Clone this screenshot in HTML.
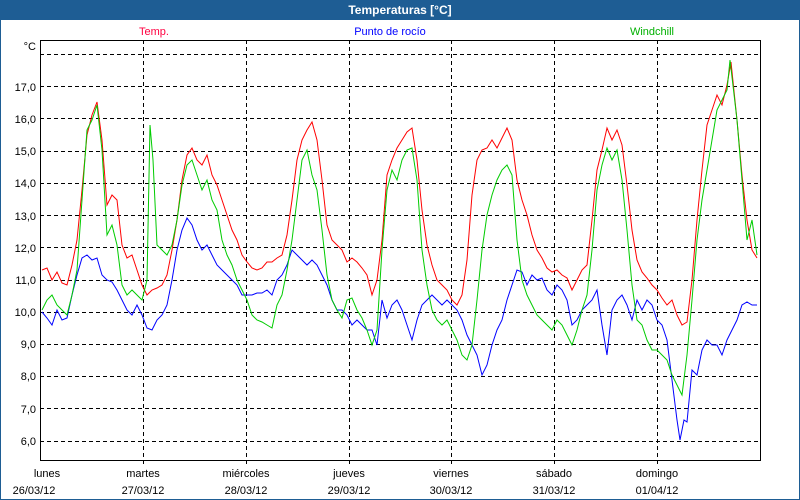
<!DOCTYPE html>
<html><head><meta charset="utf-8"><style>
body{margin:0;background:#fff}
svg{display:block;font-family:"Liberation Sans",sans-serif;font-size:11px}
</style></head><body>
<svg width="800" height="500" viewBox="0 0 800 500">
<rect x="0" y="0" width="800" height="500" fill="#fff"/>
<rect x="0.5" y="0.5" width="799" height="499" fill="none" stroke="#1e5d94"/>
<rect x="0" y="0" width="800" height="20" fill="#1e5d94"/>
<text x="400" y="14" text-anchor="middle" fill="#fff" font-weight="bold" font-size="12">Temperaturas [°C]</text>
<text x="154" y="35" text-anchor="middle" fill="#ff0040">Temp.</text>
<text x="390" y="35" text-anchor="middle" fill="#0000ff">Punto de rocío</text>
<text x="652" y="35" text-anchor="middle" fill="#00b000">Windchill</text>
<g stroke="#000" stroke-dasharray="4,3" stroke-width="1">
<line x1="40" y1="54.5" x2="760" y2="54.5"/>
<line x1="40" y1="86.5" x2="760" y2="86.5"/>
<line x1="40" y1="118.5" x2="760" y2="118.5"/>
<line x1="40" y1="151.5" x2="760" y2="151.5"/>
<line x1="40" y1="183.5" x2="760" y2="183.5"/>
<line x1="40" y1="215.5" x2="760" y2="215.5"/>
<line x1="40" y1="247.5" x2="760" y2="247.5"/>
<line x1="40" y1="280.5" x2="760" y2="280.5"/>
<line x1="40" y1="312.5" x2="760" y2="312.5"/>
<line x1="40" y1="344.5" x2="760" y2="344.5"/>
<line x1="40" y1="376.5" x2="760" y2="376.5"/>
<line x1="40" y1="408.5" x2="760" y2="408.5"/>
<line x1="40" y1="441.5" x2="760" y2="441.5"/>
<line x1="143.5" y1="40" x2="143.5" y2="466"/>
<line x1="246.5" y1="40" x2="246.5" y2="466"/>
<line x1="349.5" y1="40" x2="349.5" y2="466"/>
<line x1="451.5" y1="40" x2="451.5" y2="466"/>
<line x1="554.5" y1="40" x2="554.5" y2="466"/>
<line x1="657.5" y1="40" x2="657.5" y2="466"/>
</g>
<rect x="40.5" y="40.5" width="720" height="420" fill="none" stroke="#000"/>
<g text-anchor="end" fill="#000">
<text x="36" y="50">°C</text>
<text x="36" y="91">17,0</text><text x="36" y="123">16,0</text><text x="36" y="155">15,0</text>
<text x="36" y="187">14,0</text><text x="36" y="220">13,0</text><text x="36" y="252">12,0</text>
<text x="36" y="284">11,0</text><text x="36" y="316">10,0</text><text x="36" y="348">9,0</text>
<text x="36" y="380">8,0</text><text x="36" y="413">7,0</text><text x="36" y="445">6,0</text>
</g>
<g text-anchor="middle" fill="#000">
<text x="47" y="477">lunes</text><text x="34" y="494">26/03/12</text>
<text x="143" y="477">martes</text><text x="143" y="494">27/03/12</text>
<text x="246" y="477">miércoles</text><text x="246" y="494">28/03/12</text>
<text x="349" y="477">jueves</text><text x="349" y="494">29/03/12</text>
<text x="451" y="477">viernes</text><text x="451" y="494">30/03/12</text>
<text x="554" y="477">sábado</text><text x="554" y="494">31/03/12</text>
<text x="657" y="477">domingo</text><text x="657" y="494">01/04/12</text>
</g>
<g fill="none" stroke-width="1">
<polyline stroke="#0000ff" points="42,312 47,318 52,325 57,310 62,320 67,318 72,295 77,275 82,258 87,255 92,260 97,258 102,275 107,280 112,282 117,290 122,300 127,310 132,315 137,305 142,315 147,328 152,330 157,320 162,315 167,305 172,280 177,250 182,230 187,218 192,225 197,240 202,250 207,245 212,255 217,265 222,270 227,275 232,280 237,285 242,295 247,295 252,295 257,293 262,293 267,290 272,295 277,280 282,275 287,265 292,250 297,255 302,260 307,265 312,260 317,265 322,275 327,285 332,300 337,310 342,310 347,315 352,325 357,320 362,325 367,330 372,330 377,345 382,300 387,318 392,305 397,300 402,310 407,325 412,340 417,320 422,305 427,300 432,295 437,300 442,305 447,300 452,305 457,310 462,320 467,335 472,345 477,355 482,375 487,365 492,345 497,330 502,320 507,300 512,285 517,270 522,272 527,285 532,275 537,280 542,278 547,290 552,295 557,285 562,290 567,300 572,325 577,320 582,310 587,305 592,300 597,290 602,325 607,355 612,310 617,300 622,295 627,305 632,320 637,300 642,310 647,300 652,305 657,320 662,325 667,340 672,380 677,420 680,440 684,420 687,422 692,370 697,375 702,350 707,340 712,345 717,345 722,355 727,340 732,330 737,320 742,305 747,302 752,305 757,305"/>
<polyline stroke="#ff0000" points="42,270 47,268 52,280 57,272 62,283 67,285 72,265 77,240 82,190 87,135 92,115 97,102 102,140 107,205 112,195 117,200 122,245 127,258 132,255 137,270 142,285 147,295 152,290 157,288 162,285 167,275 172,250 177,220 182,180 187,155 192,148 197,160 202,165 207,155 212,175 217,185 222,200 227,215 232,230 237,240 242,255 247,262 252,268 257,270 262,268 267,262 272,262 277,258 282,255 287,235 292,200 297,160 302,140 307,130 312,122 317,140 322,180 327,225 332,240 337,245 342,250 347,262 352,258 357,262 362,268 367,275 372,295 377,280 382,240 387,175 392,160 397,148 402,140 407,132 412,128 417,160 422,210 427,245 432,265 437,280 442,285 447,290 452,300 457,305 462,295 467,260 472,195 477,160 482,150 487,148 492,140 497,148 502,138 507,128 512,140 517,180 522,200 527,215 532,235 537,250 542,258 547,268 552,272 557,270 562,275 567,278 572,290 577,280 582,270 587,265 592,220 597,170 602,150 607,128 612,140 617,130 622,145 627,185 632,230 637,260 642,272 647,278 652,285 657,290 662,298 667,305 672,300 677,315 682,325 687,322 692,280 697,220 702,170 707,125 712,110 717,95 722,105 727,85 731,62 737,120 742,175 747,220 752,250 757,258"/>
<polyline stroke="#00cc00" points="42,310 47,300 52,295 57,305 62,310 67,315 72,295 77,270 82,200 87,130 92,120 97,105 102,150 107,235 112,225 117,245 122,285 127,295 132,290 137,295 142,300 147,280 150,125 153,160 157,245 162,250 167,255 172,245 177,220 182,185 187,165 192,160 197,175 202,190 207,180 212,200 217,210 222,240 227,255 232,265 237,280 242,290 247,300 252,315 257,320 262,322 267,325 272,328 277,305 282,295 287,270 292,240 297,200 302,160 307,150 312,175 317,190 322,230 327,275 332,300 337,310 342,318 347,300 352,298 357,310 362,318 367,330 372,345 377,330 382,250 387,190 392,170 397,180 402,160 407,150 412,148 417,180 422,250 427,285 432,310 437,320 442,325 447,320 452,330 457,340 462,355 467,360 472,345 477,300 482,250 487,215 492,195 497,180 502,170 507,165 512,175 517,240 522,280 527,295 532,305 537,315 542,320 547,325 552,330 557,320 562,325 567,335 572,345 577,330 582,310 587,295 592,250 597,190 602,165 607,148 612,160 617,150 622,180 627,230 632,285 637,320 642,325 647,340 652,350 657,350 662,355 667,360 672,375 677,385 682,395 687,355 692,300 697,240 702,200 707,170 712,140 717,110 722,100 727,90 730,60 737,120 742,180 747,240 752,220 757,255"/>
</g>
</svg>
</body></html>
